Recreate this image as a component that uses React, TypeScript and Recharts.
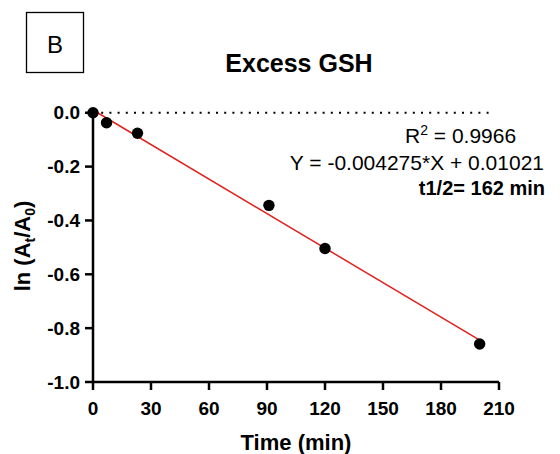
import React from 'react';
import { ComposedChart, Scatter, Line, XAxis, YAxis } from 'recharts';

const times = [0, 7, 23, 91, 120, 200];
const lnRatio = [0, -0.037, -0.076, -0.344, -0.504, -0.859];
const fitX = [0, 200];
const fitY = [0.0102, -0.8448];
const xTicks = [0, 30, 60, 90, 120, 150, 180, 210];
const yTicks = [0, -0.2, -0.4, -0.6, -0.8, -1.0];

const points = times.map((x, i) => ({ x, y: lnRatio[i] }));
const fit = fitX.map((x, i) => ({ x, y: fitY[i] }));
const zeroLine = [{ x: 0, y: 0 }, { x: 206, y: 0 }];

const FONT = '"Liberation Sans", Arial, sans-serif';
const tickStyle = { fill: '#000', fontSize: 19, fontWeight: 700, fontFamily: FONT };
const axisStroke = { stroke: '#000', strokeWidth: 2.5 };

const Dot = (props: any) => <circle cx={props.cx} cy={props.cy} r={5.7} fill="#000" />;

export default function App() {
  return (
    <div style={{ position: 'absolute', left: 0, top: 0, width: 560, height: 454, background: '#fff' }}>
      <ComposedChart width={560} height={454} margin={{ top: 110, right: 61, bottom: 42, left: 33 }}>
        <XAxis
          type="number"
          dataKey="x"
          domain={[0, 210]}
          ticks={xTicks}
          tickSize={8}
          tickMargin={12}
          height={30}
          axisLine={axisStroke}
          tickLine={axisStroke}
          tick={tickStyle}
        />
        <YAxis
          type="number"
          dataKey="y"
          domain={[-1, 0]}
          ticks={yTicks}
          tickFormatter={(v: number) => v.toFixed(1)}
          tickSize={8}
          tickMargin={5}
          width={60}
          axisLine={axisStroke}
          tickLine={axisStroke}
          tick={tickStyle}
        />
        <Line data={zeroLine} dataKey="y" stroke="#000" strokeWidth={2} strokeDasharray="2 6.2" dot={false} isAnimationActive={false} />
        <Line data={fit} dataKey="y" stroke="#e0201c" strokeWidth={1.5} dot={false} isAnimationActive={false} />
        <Scatter data={points} dataKey="y" shape={Dot} isAnimationActive={false} />
      </ComposedChart>
      <svg width={560} height={454} style={{ position: 'absolute', left: 0, top: 0, pointerEvents: 'none' }} fontFamily={FONT}>
        <rect x={26.5} y={12.5} width={57} height={60} fill="none" stroke="#000" strokeWidth={1.3} />
        <text x={55} y={52.7} textAnchor="middle" fontSize={24}>B</text>
        <text x={299} y={71.5} textAnchor="middle" fontSize={25} fontWeight={700}>Excess GSH</text>
        <text x={405} y={143} fontSize={21}>
          R<tspan dy={-8} fontSize={14}>2</tspan><tspan dy={8}> = 0.9966</tspan>
        </text>
        <text x={544} y={170} textAnchor="end" fontSize={21}>Y = -0.004275*X + 0.01021</text>
        <text x={545} y={195} textAnchor="end" fontSize={20} fontWeight={700}>t1/2= 162 min</text>
        <text x={296} y={450} textAnchor="middle" fontSize={22} fontWeight={700}>Time (min)</text>
        <text transform="translate(30,246) rotate(-90)" textAnchor="middle" fontSize={22} fontWeight={700}>
          ln (A<tspan dy={5} fontSize={14}>t</tspan><tspan dy={-5}>/A</tspan><tspan dy={5} fontSize={14}>0</tspan><tspan dy={-5}>)</tspan>
        </text>
      </svg>
    </div>
  );
}
